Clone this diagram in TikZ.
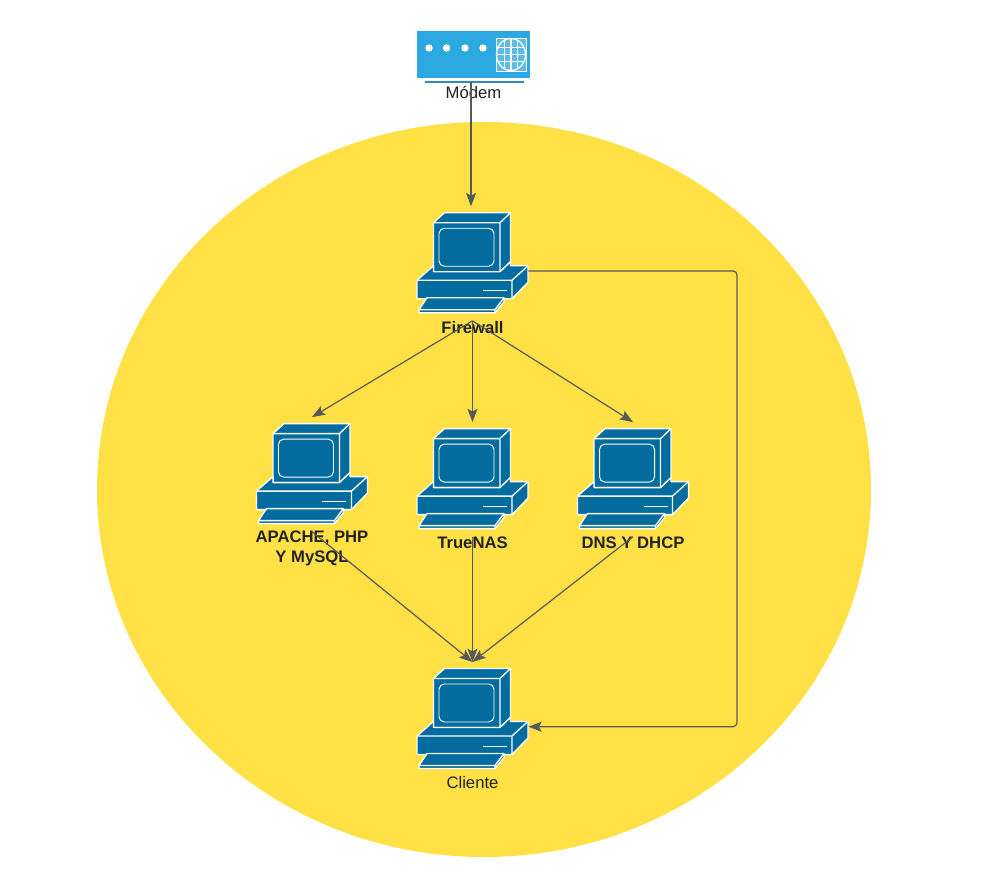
\documentclass[tikz,border=0pt]{standalone}
\usepackage{fontspec}
\setmainfont{Liberation Sans}
\usetikzlibrary{shapes.geometric,arrows.meta,positioning}
\definecolor{zone}{HTML}{FFE145}
\definecolor{pcblue}{HTML}{036C9F}
\definecolor{modemblue}{HTML}{2CA9E1}
\definecolor{modemlight}{HTML}{5BBCE8}
\definecolor{modembar}{HTML}{2A8FC0}
\definecolor{wire}{HTML}{595959}
\definecolor{ink}{HTML}{222222}
\tikzset{
  pics/pc/.style={code={
    \begin{scope}[yshift=0.6pt,draw=white,fill=pcblue,line width=1pt,line join=round]
    % monitor
    \filldraw (-39,-40)--(-28,-50)--(38,-50)--(38,-1)--(27.5,9)--(-39,9)--cycle;
    \draw (-39,-40)--(27.5,-40)--(38,-50) (27.5,-40)--(27.5,9);
    \draw[rounded corners=4pt,line width=0.7pt] (-33.5,-34.5) rectangle (21.5,3.5);
    % base
    \filldraw (-55.5,17.5)--(-39,3)--(-39,9)--(27.5,9)--(38,-1)--(38,3)--(55.5,3)--(55.5,19.5)--(39.5,36)--(-55.5,36)--cycle;
    \draw (-55.5,17.5)--(39.5,17.5)--(55.5,3) (39.5,17.5)--(39.5,36);
    \draw (10.5,28)--(34.5,28);
    % keyboard
    \filldraw (-45.5,35)--(31.5,35)--(31.5,39)--(22.5,50)--(-53.5,50)--(-53.5,47)--cycle;
    \draw (-53.5,47)--(22.5,47)--(31.5,35) (22.5,47)--(22.5,50);
    \end{scope}
  }},
  pics/modemicon/.style={code={
    \fill[modemblue] (-56.5,-25.5) rectangle (56.5,21.5);
    \draw[modembar,line width=1.5pt] (-49,26)--(50.5,26);
    \foreach \dx in {-44.5,-27,-8.5,9.5}
      \fill[white] (\dx,-8.5) circle[radius=3.7];
    \fill[modemlight] (22.5,-18.5) rectangle (52.5,14.5);
    \draw[white,line width=0.7pt] (22.5,-18.5) rectangle (52.5,14.5);
    \fill[modemblue] (37.5,-2) ellipse[x radius=14.5,y radius=16];
    \begin{scope}
      \clip (37.5,-2) ellipse[x radius=14.5,y radius=16];
      \fill[modemlight] (23,-18) rectangle (52,14);
      \foreach \gx in {31,37.5,44}
        \draw[white,line width=0.8pt] (\gx,-18)--(\gx,14);
      \foreach \gy in {-9,-2,5}
        \draw[white,line width=0.8pt] (23,\gy)--(52,\gy);
    \end{scope}
    \draw[white,line width=1pt] (37.5,-2) ellipse[x radius=14.5,y radius=16];
  }},
}
\begin{document}
\begin{tikzpicture}[x=0.75pt,y=-0.75pt,font=\fontsize{12.5pt}{15pt}\selectfont,text=ink,
  pcbox/.style={minimum width=83.25pt,minimum height=85.5pt,inner sep=0pt},
  tag/.style={inner sep=0pt,align=center,font=\fontsize{12.5pt}{15pt}\selectfont\bfseries},
  plain/.style={inner sep=0pt,align=center},
  arr/.style={-{Stealth[length=10pt,width=7.5pt,inset=2pt]},wire,line width=0.9pt}]
\useasboundingbox (0,0) rectangle (990,888);
\node[ellipse,fill=zone,minimum width=580.5pt,minimum height=551.25pt,inner sep=0pt] (lan) at (484,489.5) {};
\node[minimum width=84.75pt,minimum height=38.25pt,inner sep=0pt] (modem) at (473.5,56.5) {};
\node[pcbox,below=93pt of modem,xshift=-0.75pt] (fw) {};
\node[pcbox,below=76pt of fw] (nas) {};
\node[pcbox,left=36.75pt of nas,yshift=3.75pt] (web) {};
\node[pcbox,right=36.75pt of nas] (dns) {};
\node[pcbox,below=94pt of nas] (cli) {};
\foreach \n in {fw,web,nas,dns,cli} \pic at (\n) {pc};
\pic at (modem) {modemicon};
\node[plain,below=3pt of modem.south] (modemtag) {Módem};
\node[tag,below=0pt of fw.south] (fwtag) {Firewall};
\node[tag,below=-0.7pt of web.south] (webtag) {APACHE, PHP\\Y MySQL};
\node[tag,below=0pt of nas.south] (nastag) {TrueNAS};
\node[tag,below=0pt of dns.south] (dnstag) {DNS Y DHCP};
\node[plain,below=0pt of cli.south] (clitag) {Cliente};
\coordinate (fwport) at ([yshift=-5.6pt]fw.east);
\coordinate (cliport) at ([yshift=-5.6pt]cli.east);
\coordinate (fwtop) at ([xshift=-1.1pt]fw.north);
\draw[arr] (fwtop |- modem.south)--(fwtop);
\draw[arr] (fw.south)--(web.north);
\draw[arr] (fw.south)--(nas.north);
\draw[arr] (fw.south)--(dns.north);
\draw[arr] (web.south)--(cli.north);
\draw[arr] (nas.south)--(cli.north);
\draw[arr] (dns.south)--(cli.north);
\draw[arr,rounded corners=3pt] (fwport)-|(737,600)|-(cliport);
\end{tikzpicture}
\end{document}
